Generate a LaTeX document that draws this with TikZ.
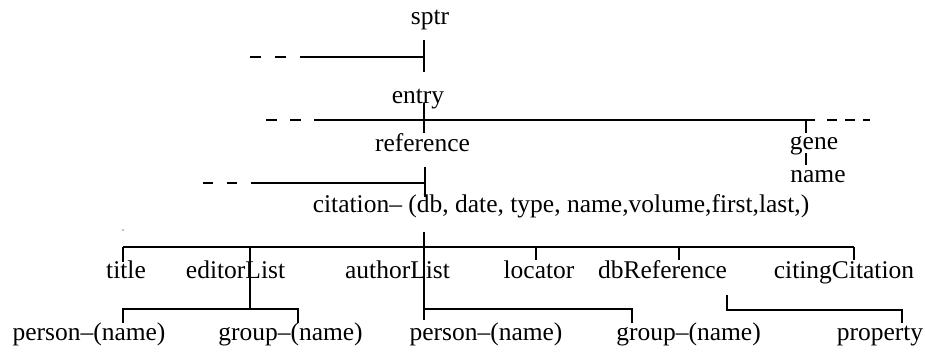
\documentclass[tikz,border=0pt]{standalone}
\usepackage{fontspec}
\setmainfont{Liberation Serif}
\begin{document}
\begin{tikzpicture}[x=1pt,y=-1pt,
  lbl/.style={anchor=base,inner sep=0pt,outer sep=0pt,font=\fontsize{25.5}{30}\selectfont},
  ln/.style={line width=1.1pt,line cap=butt},
  dsh/.style={ln,dash pattern=on 11pt off 14pt}]
\useasboundingbox (0,0) rectangle (925,351);
% text nodes
\node[lbl] (sptr) at (430,24) {sptr};
\node[lbl] (entry) at (418,103) {entry};
\node[lbl] (reference) at (422.5,151) {reference};
\node[lbl] (gene) at (814,149) {gene};
\node[lbl] (gname) at (818,182) {name};
\node[lbl] (citation) at (561,212) {citation– (db, date, type, name,volume,first,last,)};
\node[lbl] (title) at (126,278) {title};
\node[lbl] (editorList) at (235.5,278) {editorList};
\node[lbl] (authorList) at (397.5,278) {authorList};
\node[lbl] (locator) at (539,278) {locator};
\node[lbl] (dbReference) at (662.5,278) {dbReference};
\node[lbl] (citingCitation) at (844,278) {citingCitation};
\node[lbl] (person1) at (89,340) {person–(name)};
\node[lbl] (group1) at (290.5,340) {group–(name)};
\node[lbl] (person2) at (486,340) {person–(name)};
\node[lbl] (group2) at (688.5,340) {group–(name)};
\node[lbl] (property) at (880,340) {property};
% junction coordinates
\coordinate (s1) at (424,40);  \coordinate (s2) at (424,72);
\coordinate (sj) at (424,57);  \coordinate (sl) at (302,57); \coordinate (sd) at (250,57); \coordinate (sde) at (313,57);
\coordinate (e1) at (424,103); \coordinate (e2) at (424,133);
\coordinate (el) at (317,120); \coordinate (er) at (815,120);
\coordinate (eld) at (266,120); \coordinate (elde) at (328,120);
\coordinate (erd) at (827,120); \coordinate (erde) at (870,120);
\coordinate (g1) at (806,120); \coordinate (g2) at (806,133);
\coordinate (g3) at (806,153); \coordinate (g4) at (806,165);
\coordinate (r1) at (425,167); \coordinate (r2) at (425,197);
\coordinate (rj) at (425,183); \coordinate (rl) at (253,183);
\coordinate (rd) at (203,183); \coordinate (rde) at (265,183);
\coordinate (c1) at (424,232); \coordinate (c2) at (424,320);
\coordinate (hl) at (123,247); \coordinate (hr) at (854,247);
\coordinate (tE) at (123,262);
\coordinate (ed1) at (250,247); \coordinate (ed2) at (250,309);
\coordinate (lo1) at (536,247); \coordinate (lo2) at (536,260);
\coordinate (db1) at (679,247); \coordinate (db2) at (679,260);
\coordinate (cc2) at (854,260);
\coordinate (esl) at (123,309); \coordinate (esr) at (298,309);
\coordinate (esl2) at (123,323); \coordinate (esr2) at (298,323);
\coordinate (asj) at (424,309); \coordinate (asr) at (632,309); \coordinate (asr2) at (632,323);
\coordinate (dr1) at (727,295); \coordinate (dr2) at (727,310);
\coordinate (dr3) at (902,310); \coordinate (dr4) at (902,323);
% connectors
\draw[ln] (s1) -- (s2);
\draw[ln] (sl) -- (sj);
\draw[dsh] (sd) -- (sde);
\draw[ln] (e1) -- (e2);
\draw[ln] (el) -- (er);
\draw[ln,dash pattern=on 11pt off 13pt] (eld) -- (elde);
\draw[ln,dash pattern=on 10pt off 8pt] (erd) -- (erde);
\draw[ln] (g1) -- (g2);
\draw[ln] (g3) -- (g4);
\draw[ln] (r1) -- (r2);
\draw[ln] (rl) -- (rj);
\draw[ln,dash pattern=on 10pt off 14pt] (rd) -- (rde);
\draw[ln] (c1) -- (c2);
\draw[ln] (hl) -- (hr);
\draw[ln] (hl) -- (tE);
\draw[ln] (ed1) -- (ed2);
\draw[ln] (lo1) -- (lo2);
\draw[ln] (db1) -- (db2);
\draw[ln] (hr) -- (cc2);
\draw[ln] (esl2) -- (esl) -- (esr) -- (esr2);
\draw[ln] (asj) -- (asr) -- (asr2);
\draw[ln] (dr1) -- (dr2) -- (dr3) -- (dr4);
\fill (123,230) circle (0.7pt);
\end{tikzpicture}
\end{document}
